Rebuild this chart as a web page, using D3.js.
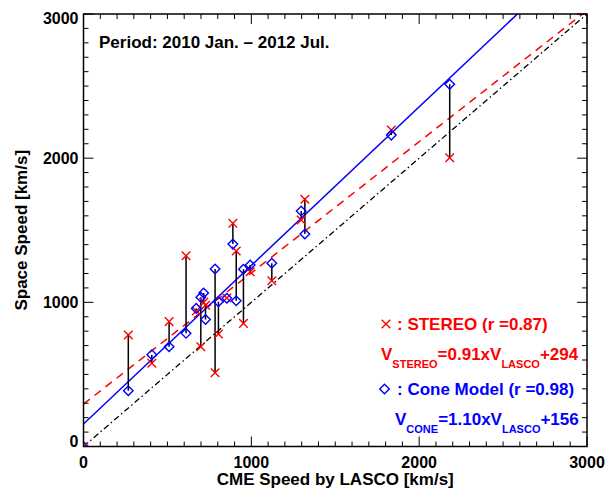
<!DOCTYPE html>
<html>
<head>
<meta charset="utf-8">
<script src="https://d3js.org/d3.v7.min.js"></script>
<style>
body { margin: 0; background: #fff; }
text { font-family: "Liberation Sans", Arial, Helvetica, sans-serif; font-weight: bold; }
</style>
</head>
<body>
<div id="chart"></div>
<script>
/* CME speeds */
var lasco  = [0, 267, 407, 510, 611, 672, 699, 716, 727, 784, 804, 854, 890, 910, 953, 993, 1122, 1297, 1319, 1834, 2182];
var stereo = [0, 773, 577, 866, 1323, 940, 692, 1000, 980, 512, 780, 1030, 1548, 1356, 854, 1212, 1150, 1571, 1715, 2195, 2003];
var cone   = [0, 387, 637, 692, 785, 958, 1035, 1065, 881, 1231, 1004, 1028, 1404, 1011, 1229, 1259, 1271, 1633, 1474, 2160, 2512];

/* fits given in the legend */
var stereoFit = {slope: 0.91, icpt: 294};
var coneFit   = {slope: 1.10, icpt: 156};

var majorTicks = [0, 1000, 2000, 3000];
var minorTicks = d3.range(0, 3001, 100);

var W = 605, H = 494;
var pL = 83.5, pR = 587, pT = 14, pB = 446.5;

var svg = d3.select("#chart").append("svg")
    .attr("width", W)
    .attr("height", H);

var x = d3.scaleLinear().domain([0, 3000]).range([pL, pR]);
var y = d3.scaleLinear().domain([0, 3000]).range([pB, pT]);

svg.append("clipPath").attr("id", "clip")
  .append("rect")
    .attr("x", pL).attr("y", pT)
    .attr("width", pR - pL).attr("height", pB - pT);

var plot = svg.append("g").attr("clip-path", "url(#clip)");

function crossPath(px, py, s) {
    return "M" + (px - s) + "," + (py - s) + "L" + (px + s) + "," + (py + s) +
           "M" + (px - s) + "," + (py + s) + "L" + (px + s) + "," + (py - s);
}
function diamondPath(px, py, r) {
    return "M" + px + "," + (py - r) + "L" + (px + r) + "," + py +
           "L" + px + "," + (py + r) + "L" + (px - r) + "," + py + "Z";
}

// reference lines
var line = d3.line().x(d => x(d[0])).y(d => y(d[1]));

plot.append("path")
    .datum([[0, 0], [3000, 3000]])
    .attr("d", line)
    .attr("fill", "none")
    .attr("stroke", "black")
    .attr("stroke-width", 1.3)
    .attr("stroke-dasharray", "6,3,1.5,3");

plot.append("path")
    .datum([[0, stereoFit.icpt], [3000, stereoFit.slope * 3000 + stereoFit.icpt]])
    .attr("d", line)
    .attr("fill", "none")
    .attr("stroke", "#ff0000")
    .attr("stroke-width", 1.5)
    .attr("stroke-dasharray", "8,6");

plot.append("path")
    .datum([[0, coneFit.icpt], [3000, coneFit.slope * 3000 + coneFit.icpt]])
    .attr("d", line)
    .attr("fill", "none")
    .attr("stroke", "#0000ff")
    .attr("stroke-width", 1.5);

// vertical connectors
lasco.forEach(function(v, i) {
    plot.append("line")
        .attr("x1", x(v)).attr("x2", x(v))
        .attr("y1", y(stereo[i])).attr("y2", y(cone[i]))
        .attr("stroke", "black")
        .attr("stroke-width", 1.5);
});

// symbols
lasco.forEach(function(v, i) {
    plot.append("path")
        .attr("d", crossPath(x(v), y(stereo[i]), 4.3))
        .attr("stroke", "#ff0000")
        .attr("stroke-width", 1.4)
        .attr("fill", "none");
});
lasco.forEach(function(v, i) {
    plot.append("path")
        .attr("d", diamondPath(x(v), y(cone[i]), 4.8))
        .attr("stroke", "#0000ff")
        .attr("stroke-width", 1.4)
        .attr("fill", "none");
});

// frame and ticks
svg.append("rect")
    .attr("x", pL).attr("y", pT)
    .attr("width", pR - pL).attr("height", pB - pT)
    .attr("fill", "none")
    .attr("stroke", "black")
    .attr("stroke-width", 1.5);

var ticks = svg.append("g").attr("stroke", "black").attr("stroke-width", 1);
minorTicks.forEach(function(t) {
    var len = (t % 1000 === 0) ? 10 : 5;
    ticks.append("line").attr("x1", x(t)).attr("x2", x(t)).attr("y1", pB).attr("y2", pB - len);
    ticks.append("line").attr("x1", x(t)).attr("x2", x(t)).attr("y1", pT).attr("y2", pT + len);
    ticks.append("line").attr("y1", y(t)).attr("y2", y(t)).attr("x1", pL).attr("x2", pL + len);
    ticks.append("line").attr("y1", y(t)).attr("y2", y(t)).attr("x1", pR).attr("x2", pR - len);
});

// tick labels
majorTicks.forEach(function(t) {
    svg.append("text")
        .attr("x", x(t)).attr("y", pB + 21)
        .attr("text-anchor", "middle")
        .attr("font-size", "16px")
        .text(t);
    var ty = y(t) + 6;
    if (t === 0) ty = y(t);
    if (t === 3000) ty = y(t) + 10;
    svg.append("text")
        .attr("x", pL - 5).attr("y", ty)
        .attr("text-anchor", "end")
        .attr("font-size", "16px")
        .text(t);
});

// axis titles
svg.append("text")
    .attr("x", (pL + pR) / 2).attr("y", 485)
    .attr("text-anchor", "middle")
    .attr("font-size", "17px")
    .text("CME Speed by LASCO [km/s]");

svg.append("text")
    .attr("transform", "translate(27," + ((pT + pB) / 2) + ") rotate(-90)")
    .attr("text-anchor", "middle")
    .attr("font-size", "17px")
    .text("Space Speed [km/s]");

svg.append("text")
    .attr("x", 99).attr("y", 48)
    .attr("font-size", "17px")
    .text("Period: 2010 Jan. \u2013 2012 Jul.");

// legend
var lg = svg.append("g").attr("font-size", "17px");

lg.append("path")
    .attr("d", crossPath(386, 324, 4.3))
    .attr("stroke", "#ff0000").attr("stroke-width", 1.4).attr("fill", "none");
lg.append("text").attr("x", 397).attr("y", 330).attr("fill", "#ff0000")
    .text(": STEREO (r =0.87)");

var t2 = lg.append("text").attr("x", 381).attr("y", 360).attr("fill", "#ff0000");
t2.append("tspan").text("V");
t2.append("tspan").attr("font-size", "11px").attr("dy", 8).text("STEREO");
t2.append("tspan").attr("dy", -8).text("=0.91xV");
t2.append("tspan").attr("font-size", "11px").attr("dy", 8).text("LASCO");
t2.append("tspan").attr("dy", -8).text("+294");

lg.append("path")
    .attr("d", diamondPath(384.5, 389, 4.8))
    .attr("stroke", "#0000ff").attr("stroke-width", 1.4).attr("fill", "none");
lg.append("text").attr("x", 397).attr("y", 395).attr("fill", "#0000ff")
    .text(": Cone Model (r =0.98)");

var t4 = lg.append("text").attr("x", 395).attr("y", 425).attr("fill", "#0000ff");
t4.append("tspan").text("V");
t4.append("tspan").attr("font-size", "11px").attr("dy", 8).text("CONE");
t4.append("tspan").attr("dy", -8).text("=1.10xV");
t4.append("tspan").attr("font-size", "11px").attr("dy", 8).text("LASCO");
t4.append("tspan").attr("dy", -8).text("+156");
</script>
</body>
</html>
